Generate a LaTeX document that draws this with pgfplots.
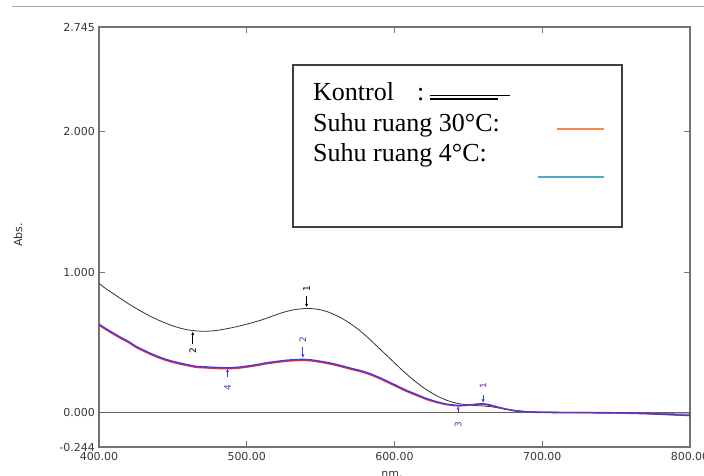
\documentclass[border=0pt]{standalone}
\usepackage{pgfplots}
\pgfplotsset{compat=1.18}
\usepackage{fontspec}
\setmainfont{Liberation Serif}
\newfontfamily\tickfont{DejaVu Sans}
\usetikzlibrary{arrows.meta}

\definecolor{axisgray}{RGB}{115,115,115}
\definecolor{ticktext}{RGB}{55,55,55}
\definecolor{cred}{RGB}{235,40,50}
\definecolor{cblue}{RGB}{60,60,235}
\definecolor{lblpurple}{RGB}{110,40,170}
\definecolor{legorange}{RGB}{240,140,70}
\definecolor{legblue}{RGB}{75,172,198}

\begin{document}
\begin{tikzpicture}
  \useasboundingbox (0,0) rectangle (704bp,476bp);

  % header rule of the page the scan came from
  \draw[gray!70, line width=0.8bp] (12bp,469.3bp) -- (704bp,469.3bp);

  \begin{axis}[
      at={(99bp,29bp)}, anchor=south west,
      scale only axis,
      width=591bp, height=420bp,
      xmin=400, xmax=800,
      ymin=-0.244, ymax=2.745,
      axis line style={axisgray, line width=1.3bp},
      tick style={axisgray, line width=1bp},
      major tick length=6bp,
      xtick={400,500,600,700,800},
      xticklabels={400.00,500.00,600.00,700.00,800.00},
      ytick={-0.244,0,1,2,2.745},
      yticklabels={-0.244,0.000,1.000,2.000,2.745},
      ticklabel style={font=\tickfont\fontsize{11bp}{12bp}\selectfont, text=ticktext},
      yticklabel style={xshift=-0.5bp},
      xticklabel style={yshift=-1.5bp},
      clip=false,
    ]
    % zero line
    \draw[gray!75!black, line width=0.9bp] (axis cs:400,0) -- (axis cs:800,0);

    % Kontrol
    \addplot[black!80, line width=0.8bp, smooth, tension=0.4] coordinates {
      (400,0.92) (405,0.88) (410,0.845) (415,0.81) (420,0.775) (425,0.743)
      (430,0.713) (435,0.685) (440,0.66) (445,0.638) (450,0.618) (455,0.602)
      (460,0.59) (465,0.583) (470,0.58) (475,0.581) (480,0.586) (490,0.605)
      (500,0.63) (510,0.66) (518,0.69) (525,0.715) (532,0.733) (540,0.742)
      (545,0.74) (550,0.732) (555,0.717) (560,0.695) (565,0.668) (570,0.635)
      (575,0.597) (580,0.553) (585,0.505) (590,0.455) (595,0.405) (600,0.355)
      (605,0.305) (610,0.258) (615,0.215) (620,0.175) (625,0.142) (630,0.113)
      (635,0.09) (640,0.073) (645,0.062) (650,0.055) (655,0.051) (660,0.048)
      (665,0.043) (670,0.035) (675,0.026) (680,0.018) (690,0.008) (700,0.004)
      (730,0.0) (760,-0.004) (800,-0.01)
    };

    % Suhu ruang 30 C
    \addplot[cred, line width=1.5bp, smooth, tension=0.4] coordinates {
      (400,0.623) (405,0.590) (410,0.558) (415,0.528) (420,0.500) (425,0.466)
      (430,0.440) (435,0.415) (440,0.393) (445,0.374) (450,0.359) (455,0.346)
      (460,0.335) (466,0.323) (473,0.319) (480,0.315) (487,0.313)
      (494,0.317) (500,0.325) (507,0.336) (513,0.348) (520,0.358) (527,0.367)
      (533,0.371) (538,0.373) (544,0.369) (549,0.361) (556,0.348) (563,0.331)
      (570,0.311) (577,0.293) (583,0.273) (590,0.243) (596,0.213) (600,0.193)
      (608,0.153) (615,0.123) (622,0.094) (628,0.075) (635,0.058) (643,0.049)
      (650,0.053) (656,0.058) (660,0.060) (665,0.052) (670,0.038) (676,0.024)
      (683,0.011) (690,0.005) (701,0.002) (730,0.0) (751,-0.002) (770,-0.007)
      (790,-0.015) (800,-0.02)
    };

    % Suhu ruang 4 C
    \addplot[cblue, line width=1.3bp, smooth, tension=0.4] coordinates {
      (400,0.63) (405,0.597) (410,0.565) (415,0.535) (420,0.507) (425,0.473)
      (430,0.447) (435,0.422) (440,0.40) (445,0.381) (450,0.366) (455,0.353)
      (460,0.342) (466,0.33) (473,0.326) (480,0.322) (487,0.32)
      (494,0.324) (500,0.332) (507,0.343) (513,0.355) (520,0.365) (527,0.374)
      (533,0.378) (538,0.38) (544,0.376) (549,0.368) (556,0.355) (563,0.338)
      (570,0.318) (577,0.30) (583,0.28) (590,0.25) (596,0.22) (600,0.20)
      (608,0.16) (615,0.13) (622,0.10) (628,0.08) (635,0.062) (643,0.052)
      (650,0.056) (656,0.062) (660,0.064) (665,0.055) (670,0.04) (676,0.025)
      (683,0.012) (690,0.006) (701,0.003) (730,0.001) (751,0.0) (770,-0.006)
      (790,-0.015) (800,-0.02)
    };

    % peak / valley pick marks
    \tikzset{pick/.style={line width=0.9bp, -{Latex[length=3.5bp,width=3.2bp]}},
             picklbl/.style={rotate=90, font=\tickfont\fontsize{9bp}{10bp}\selectfont, inner sep=0pt}}
    \draw[pick, black] (axis cs:540.5,0.83) -- (axis cs:540.5,0.75);
    \node[picklbl, black] at (axis cs:540.5,0.885) {1};
    \draw[pick, black] (axis cs:463.5,0.49) -- (axis cs:463.5,0.578);
    \node[picklbl, black] at (axis cs:463.5,0.44) {2};
    \draw[pick, cblue] (axis cs:538,0.47) -- (axis cs:538,0.39);
    \node[picklbl, lblpurple] at (axis cs:538,0.52) {2};
    \draw[pick, cblue] (axis cs:487,0.257) -- (axis cs:487,0.314);
    \node[picklbl, lblpurple] at (axis cs:487,0.18) {4};
    \draw[pick, cblue] (axis cs:643,0.0) -- (axis cs:643,0.048);
    \node[picklbl, lblpurple] at (axis cs:643,-0.086) {3};
    \draw[pick, cblue] (axis cs:660,0.128) -- (axis cs:660,0.07);
    \node[picklbl, lblpurple] at (axis cs:660,0.196) {1};
  \end{axis}

  % axis titles
  \node[rotate=90, font=\tickfont\fontsize{11bp}{12bp}\selectfont, text=ticktext] at (18bp,241bp) {Abs.};
  \node[anchor=base, font=\tickfont\fontsize{11bp}{12bp}\selectfont, text=ticktext] at (392bp,-1.5bp) {nm.};

  % hand-made key box
  \draw[black!75, line width=1.2bp] (293bp,249bp) rectangle (622bp,411bp);
  \begin{scope}[every node/.style={anchor=base west, inner sep=0pt, font=\fontsize{26bp}{30bp}\selectfont}]
    \node at (313bp,375.3bp) {Kontrol};
    \node at (417bp,375.3bp) {:};
    \node at (313bp,344.3bp) {Suhu ruang 30°C:};
    \node at (313bp,314.3bp) {Suhu ruang 4°C:};
  \end{scope}
  \draw[black, line width=1.8bp] (430bp,380.5bp) -- (510bp,380.5bp);
  \draw[black, line width=1.6bp] (430bp,377.2bp) -- (498bp,377.2bp);
  \draw[legorange, line width=2bp] (557bp,347bp) -- (604bp,347bp);
  \draw[legblue, line width=2bp] (538bp,299.3bp) -- (604bp,299.3bp);
\end{tikzpicture}
\end{document}
